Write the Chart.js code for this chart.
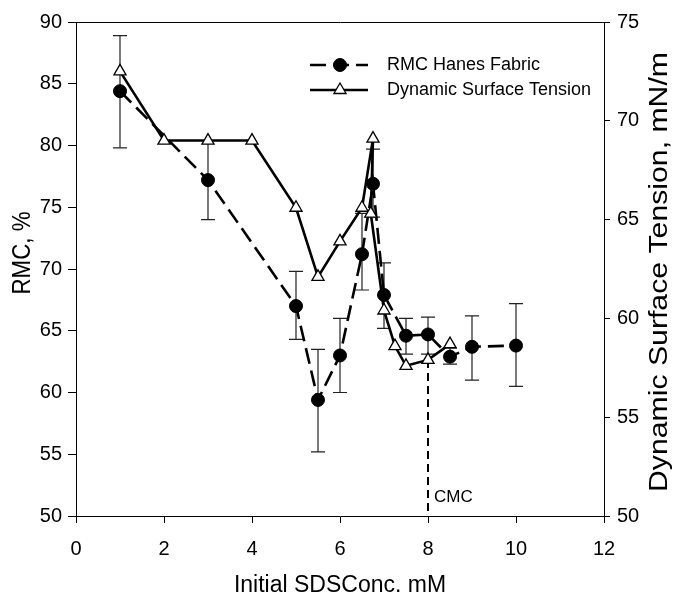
<!DOCTYPE html>
<html>
<head>
<meta charset="utf-8">
<script src="https://cdn.jsdelivr.net/npm/chart.js@4.4.1/dist/chart.umd.min.js"></script>
<style>
  html, body { margin: 0; padding: 0; background: #fff; }
  #wrap { width: 675px; height: 599px; }
</style>
</head>
<body>
<div id="wrap"><canvas id="c" width="675" height="599"></canvas></div>
<script>
// RMC of Hanes fabric (%) with error bar ends
const rmcConc = [1, 3, 5, 5.5, 6, 6.5, 6.75, 7, 7.5, 8, 8.5, 9, 10];
const rmcValues = [84.4, 77.2, 67.0, 59.4, 63.0, 71.2, 76.9, 67.9, 64.6, 64.7, 62.9, 63.7, 63.8];
const rmcLow = [79.8, 74.0, 64.3, 55.2, 60.0, 68.3, 74.2, 65.2, 63.1, 63.1, 62.3, 61.0, 60.5];
const rmcHigh = [88.9, 80.4, 69.8, 63.5, 66.0, 74.5, 79.7, 70.5, 66.0, 66.1, 63.6, 66.2, 67.2];

// Dynamic surface tension (mN/m), in measurement order
const dstConc = [1, 2, 3, 4, 5, 5.5, 6, 6.5, 6.75, 6.7, 7, 7.25, 7.5, 8, 8.5];
const dstValues = [72.5, 69.0, 69.0, 69.0, 65.6, 62.1, 63.9, 65.6, 69.1, 65.3, 60.4, 58.6, 57.6, 57.9, 58.7];

// CMC marker
const cmcConc = 8;
const cmcTension = 57.9;

const xTicks = [0, 2, 4, 6, 8, 10, 12];
const leftTicks = [50, 55, 60, 65, 70, 75, 80, 85, 90];
const rightTicks = [50, 55, 60, 65, 70, 75];

const seriesNames = ['RMC Hanes Fabric', 'Dynamic Surface Tension'];
const leftTitle = 'RMC, %';
const rightTitle = 'Dynamic Surface Tension, mN/m';

const FONT = "'Liberation Sans', Arial, sans-serif";

const toPoints = (xs, ys) => xs.map((x, i) => ({ x: x, y: ys[i] }));

// vertical error bars with caps behind the RMC series
const errorBars = {
  id: 'errorBars',
  beforeDatasetsDraw(chart) {
    const { ctx } = chart;
    const xs = chart.scales.x, ys = chart.scales.y;
    ctx.save();
    ctx.strokeStyle = '#222';
    ctx.lineWidth = 1.2;
    rmcConc.forEach((c, i) => {
      const px = xs.getPixelForValue(c);
      const p1 = ys.getPixelForValue(rmcLow[i]);
      const p2 = ys.getPixelForValue(rmcHigh[i]);
      ctx.beginPath();
      ctx.moveTo(px, p1); ctx.lineTo(px, p2);
      ctx.moveTo(px - 7, p1); ctx.lineTo(px + 7, p1);
      ctx.moveTo(px - 7, p2); ctx.lineTo(px + 7, p2);
      ctx.stroke();
    });
    ctx.restore();
  }
};

// vertical axis title read bottom-to-top, fitted to a given length
function drawVerticalTitle(ctx, text, cx, cy, size, length) {
  ctx.save();
  ctx.font = size + 'px ' + FONT;
  const w = ctx.measureText(text).width;
  ctx.translate(cx, cy);
  ctx.rotate(-Math.PI / 2);
  ctx.scale(length / w, 1);
  ctx.textAlign = 'center';
  ctx.textBaseline = 'middle';
  ctx.fillStyle = '#000';
  ctx.fillText(text, 0, 0);
  ctx.restore();
}

// axis titles, CMC label and the in-plot legend
const annotations = {
  id: 'annotations',
  afterDraw(chart) {
    const { ctx } = chart;
    const xs = chart.scales.x, ys = chart.scales.y;
    drawVerticalTitle(ctx, leftTitle, 23, 253, 26, 83);
    drawVerticalTitle(ctx, rightTitle, 660, 272, 26, 440);

    ctx.save();
    ctx.fillStyle = '#000';
    ctx.font = '17px ' + FONT;
    ctx.textBaseline = 'middle';
    ctx.textAlign = 'left';
    ctx.fillText('CMC', xs.getPixelForValue(cmcConc) + 6, ys.getPixelForValue(50) - 19);

    const rows = [
      { ds: chart.data.datasets[1], y: 65 },
      { ds: chart.data.datasets[0], y: 90 }
    ];
    rows.forEach(r => {
      const ds = r.ds;
      ctx.save();
      ctx.strokeStyle = '#000';
      ctx.lineWidth = ds.borderWidth;
      ctx.setLineDash(ds.borderDash || []);
      ctx.beginPath();
      ctx.moveTo(310, r.y); ctx.lineTo(368, r.y);
      ctx.stroke();
      ctx.restore();
      ctx.save();
      ctx.setLineDash([]);
      ctx.lineWidth = ds.pointBorderWidth;
      ctx.strokeStyle = '#000';
      ctx.fillStyle = ds.pointBackgroundColor;
      Chart.helpers.drawPoint(ctx, { pointStyle: ds.pointStyle, radius: ds.pointRadius, borderWidth: ds.pointBorderWidth, rotation: 0 }, 340, r.y);
      ctx.restore();
      ctx.font = '18px ' + FONT;
      ctx.fillStyle = '#000';
      ctx.fillText(ds.label, 387, r.y);
    });
    ctx.restore();
  }
};

const tickFont = { family: FONT, size: 20 };

new Chart(document.getElementById('c'), {
  type: 'line',
  data: {
    datasets: [
      {
        label: seriesNames[1],
        data: toPoints(dstConc, dstValues),
        yAxisID: 'y2',
        borderColor: '#000',
        borderWidth: 2.6,
        pointStyle: 'triangle',
        pointRadius: 7,
        pointBorderWidth: 1.3,
        pointBackgroundColor: '#fff',
        pointBorderColor: '#000',
        tension: 0,
        order: 0
      },
      {
        label: seriesNames[0],
        data: toPoints(rmcConc, rmcValues),
        yAxisID: 'y',
        borderColor: '#000',
        borderWidth: 2.6,
        borderDash: [16, 7],
        pointStyle: 'circle',
        pointRadius: 6.5,
        pointBorderWidth: 1,
        pointBackgroundColor: '#000',
        pointBorderColor: '#000',
        tension: 0,
        order: 1
      },
      {
        label: 'CMC',
        data: [{ x: cmcConc, y: cmcTension }, { x: cmcConc, y: 50 }],
        yAxisID: 'y2',
        borderColor: '#000',
        borderWidth: 2,
        borderDash: [8, 5],
        pointRadius: 0,
        order: 2
      }
    ]
  },
  plugins: [errorBars, annotations],
  options: {
    responsive: false,
    animation: false,
    devicePixelRatio: 1,
    layout: { padding: 0 },
    plugins: { legend: { display: false }, tooltip: { enabled: false } },
    scales: {
      x: {
        type: 'linear', position: 'bottom', min: 0, max: 12,
        afterBuildTicks: s => { s.ticks = xTicks.map(v => ({ value: v })); },
        afterFit: s => { s.height = 83; },
        grid: { drawOnChartArea: false, drawTicks: true, tickLength: 7, color: '#000' },
        border: { display: true, color: '#000', width: 1 },
        ticks: { color: '#000', font: tickFont, padding: 14, maxRotation: 0 },
        title: { display: true, text: 'Initial SDSConc. mM', color: '#000',
                 font: { family: FONT, size: 23, lineHeight: 1 }, padding: { top: 0, bottom: 2 } }
      },
      xTop: {
        type: 'linear', position: 'top', min: 0, max: 12,
        afterFit: s => { s.height = 22; },
        grid: { drawOnChartArea: false, drawTicks: false },
        border: { display: true, color: '#000', width: 1 },
        ticks: { display: false }
      },
      y: {
        type: 'linear', position: 'left', min: 50, max: 90,
        afterBuildTicks: s => { s.ticks = leftTicks.map(v => ({ value: v })); },
        afterFit: s => { s.width = 76; },
        grid: { drawOnChartArea: false, drawTicks: true, tickLength: 8, color: '#000' },
        border: { display: true, color: '#000', width: 1 },
        ticks: { color: '#000', font: tickFont, padding: 6 }
      },
      y2: {
        type: 'linear', position: 'right', min: 50, max: 75,
        afterBuildTicks: s => { s.ticks = rightTicks.map(v => ({ value: v })); },
        afterFit: s => { s.width = 71; },
        grid: { drawOnChartArea: false, drawTicks: true, tickLength: 6, color: '#000' },
        border: { display: true, color: '#000', width: 1 },
        ticks: { color: '#000', font: tickFont, padding: 7 }
      }
    }
  }
});
</script>
</body>
</html>
